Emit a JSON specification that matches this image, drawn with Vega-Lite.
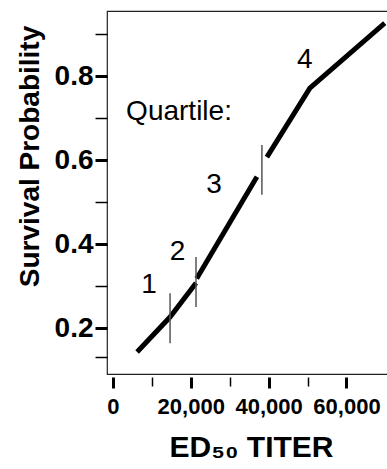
{
  "$schema": "https://vega.github.io/schema/vega-lite/v6.json",
  "width": 294,
  "height": 363,
  "autosize": {"type": "none"},
  "padding": {"left": 107, "top": 11, "right": 0, "bottom": 95},
  "background": "white",
  "config": {
    "font": "Liberation Sans",
    "view": {"stroke": "#222222", "strokeWidth": 1.2},
    "axis": {"grid": false, "labelColor": "black", "titleColor": "black", "tickColor": "black", "labelFlush": false, "labelOverlap": false, "labelBound": false}
  },
  "datasets": {
    "curve": [
      {"titer": 6230, "prob": 0.143, "seg": "A"},
      {"titer": 14690, "prob": 0.226, "seg": "A"},
      {"titer": 21360, "prob": 0.307, "seg": "A"},
      {"titer": 21540, "prob": 0.318, "seg": "B"},
      {"titer": 37000, "prob": 0.56, "seg": "B"},
      {"titer": 39560, "prob": 0.607, "seg": "C"},
      {"titer": 50590, "prob": 0.771, "seg": "C"},
      {"titer": 69820, "prob": 0.926, "seg": "C"}
    ],
    "quartiles": [
      {"titer": 14690, "lo": 0.164, "hi": 0.283},
      {"titer": 21360, "lo": 0.25, "hi": 0.369},
      {"titer": 38280, "lo": 0.517, "hi": 0.636}
    ],
    "numbers": [
      {"titer": 9310, "prob": 0.283, "label": "1"},
      {"titer": 16610, "prob": 0.362, "label": "2"},
      {"titer": 25970, "prob": 0.521, "label": "3"},
      {"titer": 49290, "prob": 0.819, "label": "4"}
    ],
    "heading": [
      {"titer": 3410, "prob": 0.695, "label": "Quartile:"}
    ]
  },
  "layer": [
    {
      "data": {"name": "curve"},
      "mark": {"type": "line", "color": "black", "strokeWidth": 5, "strokeCap": "butt"},
      "encoding": {
        "x": {
          "field": "titer", "type": "quantitative",
          "scale": {"domain": [-1500, 74000], "nice": false, "zero": false},
          "axis": {
            "orient": "bottom", "values": [0, 20000, 40000, 60000], "format": ",d",
            "domain": false, "offset": 3, "tickSize": 11, "tickWidth": 3,
            "labelFont": "Liberation Sans", "labelFontWeight": "bold", "labelFontSize": 22, "labelPadding": 8,
            "title": "ED₅₀ TITER", "titleFont": "Liberation Sans", "titleFontWeight": "bold", "titleFontSize": 30,
            "titleBaseline": "alphabetic", "titleAlign": "center", "titleX": 144, "titleY": 79
          }
        },
        "y": {
          "field": "prob", "type": "quantitative",
          "scale": {"domain": [0.0905, 0.9548], "nice": false, "zero": false},
          "axis": {
            "orient": "left", "values": [0.2, 0.4, 0.6, 0.8], "format": ".1f",
            "domain": false, "tickSize": 12, "tickWidth": 3,
            "labelFont": "Liberation Sans", "labelFontWeight": "bold", "labelFontSize": 28, "labelPadding": 2,
            "title": "Survival Probability", "titleFont": "Liberation Sans", "titleFontWeight": "bold", "titleFontSize": 28,
            "titleAngle": -90, "titleBaseline": "alphabetic", "titleAlign": "center", "titleX": -69, "titleY": 145
          }
        },
        "detail": {"field": "seg", "type": "nominal"}
      }
    },
    {
      "data": {"name": "quartiles"},
      "mark": {"type": "rule", "color": "#555555", "strokeWidth": 1.5},
      "encoding": {
        "x": {
          "field": "titer", "type": "quantitative",
          "scale": {"domain": [-1500, 74000], "nice": false, "zero": false},
          "axis": {"orient": "bottom", "values": [10000, 30000, 50000], "labels": false, "domain": false, "offset": 3, "tickSize": 9, "tickWidth": 1.5, "title": null}
        },
        "y": {
          "field": "lo", "type": "quantitative",
          "scale": {"domain": [0.0905, 0.9548], "nice": false, "zero": false},
          "axis": {"orient": "left", "values": [0.13, 0.3, 0.5, 0.7, 0.9], "labels": false, "domain": false, "tickSize": 12, "tickWidth": 1.5, "title": null}
        },
        "y2": {"field": "hi"}
      }
    },
    {
      "data": {"name": "numbers"},
      "mark": {"type": "text", "font": "Liberation Sans", "fontSize": 28, "color": "black", "align": "center", "baseline": "alphabetic"},
      "encoding": {
        "x": {"field": "titer", "type": "quantitative", "axis": null},
        "y": {"field": "prob", "type": "quantitative", "axis": null},
        "text": {"field": "label"}
      }
    },
    {
      "data": {"name": "heading"},
      "mark": {"type": "text", "font": "Liberation Sans", "fontSize": 28, "color": "black", "align": "left", "baseline": "alphabetic"},
      "encoding": {
        "x": {"field": "titer", "type": "quantitative", "axis": null},
        "y": {"field": "prob", "type": "quantitative", "axis": null},
        "text": {"field": "label"}
      }
    }
  ],
  "resolve": {"axis": {"x": "independent", "y": "independent"}}
}
